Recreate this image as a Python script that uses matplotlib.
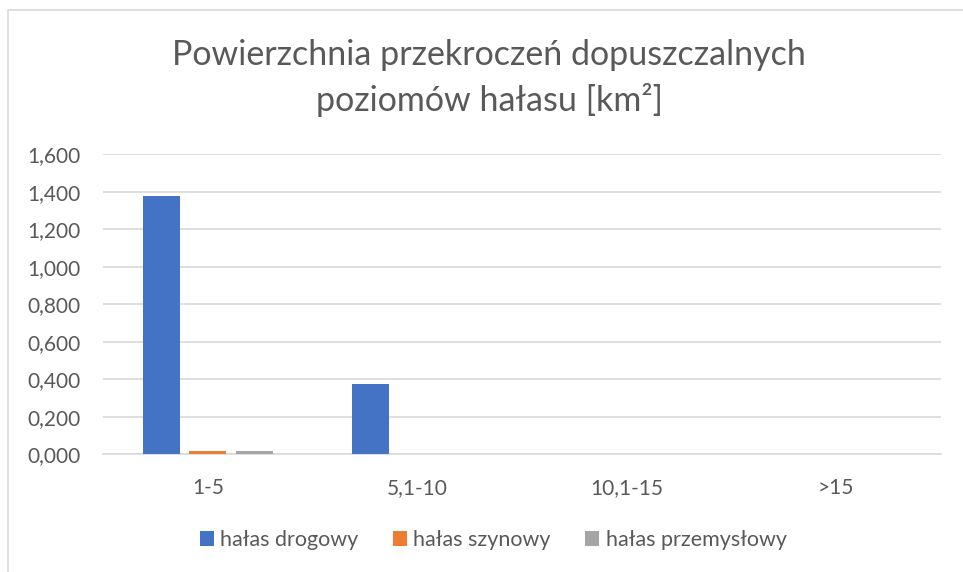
import numpy as np
import matplotlib.pyplot as plt
from matplotlib.patches import Rectangle

plt.rcParams['font.family'] = ['Lato', 'DejaVu Sans']

# data
categories = ['1-5', '5,1-10', '10,1-15', '>15']
series_names = ['hałas drogowy', 'hałas szynowy', 'hałas przemysłowy']
drogowy = [1.379, 0.376, 0.001, 0.0]
szynowy = [0.015, 0.0, 0.0, 0.0]
przemyslowy = [0.015, 0.001, 0.0, 0.0]
colors = ['#4472C4', '#ED7D31', '#A5A5A5']
yticks = [0.0, 0.2, 0.4, 0.6, 0.8, 1.0, 1.2, 1.4, 1.6]

txt = '#595959'
grid = '#D9D9D9'

fig = plt.figure(figsize=(9.63, 5.72), dpi=100)
ax = fig.add_axes([103/963, 1-454.3/572, (941-103)/963, 300/572])

x = np.arange(len(categories))
w = 0.177
offs = [-0.222, 0.0, 0.222]
for vals, off, c, name in zip([drogowy, szynowy, przemyslowy], offs, colors, series_names):
    ax.bar(x + off, vals, width=w, color=c, label=name, zorder=3)

ax.set_xlim(-0.5, len(categories) - 0.5)
ax.set_ylim(0, 1.6)
ax.set_yticks(yticks)
ax.set_yticklabels([f'{v:.3f}'.replace('.', ',') for v in yticks])
ax.set_xticks(x)
ax.set_xticklabels(categories)
ax.tick_params(axis='both', length=0, colors=txt, labelsize=15)
ax.tick_params(axis='y', pad=16)
ax.tick_params(axis='x', pad=17)
ax.yaxis.grid(True, color=grid, lw=1.2, zorder=0)
for s in ['top', 'right', 'left']:
    ax.spines[s].set_visible(False)
ax.spines['bottom'].set_color(grid)
ax.spines['bottom'].set_linewidth(1.2)

fig.text(0.508, 1-55/572, 'Powierzchnia przekroczeń dopuszczalnych', ha='center', va='center',
         fontsize=24.5, color=txt)
fig.text(0.508, 1-100/572, 'poziomów hałasu [km²]', ha='center', va='center',
         fontsize=24.5, color=txt)

leg = fig.legend(loc='center', bbox_to_anchor=(0.512, 1-540/572), ncol=3, frameon=False,
                 fontsize=15.5, handlelength=0.65, handleheight=0.65, handletextpad=0.3,
                 columnspacing=1.6)
for t in leg.get_texts():
    t.set_color(txt)

fig.patches.append(Rectangle((8/963, -0.1), 1.0, 1.1 - 9.5/572, transform=fig.transFigure,
                             fill=False, ec=grid, lw=1.2))

fig.savefig('out.png', dpi=100)
